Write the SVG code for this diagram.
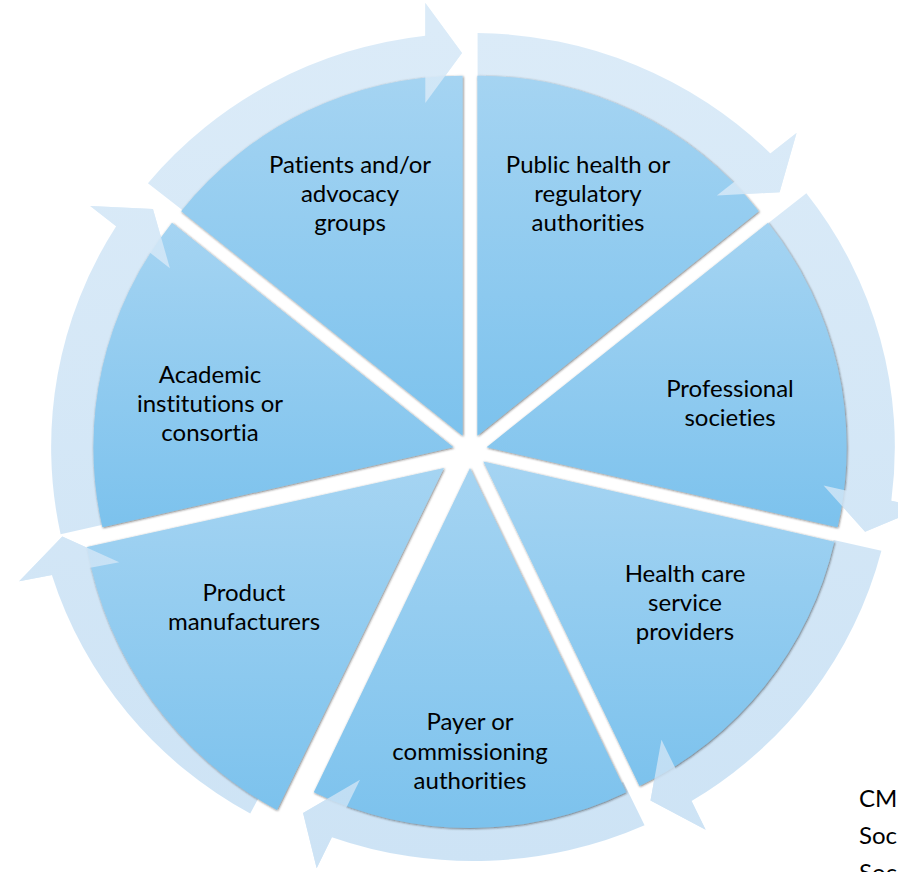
<svg xmlns="http://www.w3.org/2000/svg" width="898" height="872" viewBox="0 0 898 872">
  <defs>
    <linearGradient id="sliceFill" x1="0" y1="0" x2="0" y2="1">
      <stop offset="0" stop-color="#a5d4f2"/>
      <stop offset="1" stop-color="#7cc2ed"/>
    </linearGradient>
    <linearGradient id="arrowFill" gradientUnits="userSpaceOnUse" x1="0" y1="-420" x2="0" y2="420">
      <stop offset="0" stop-color="#dbebf8"/>
      <stop offset="1" stop-color="#cde3f5"/>
    </linearGradient>
    <filter id="edgeShadow" x="-5%" y="-5%" width="110%" height="110%">
      <feDropShadow dx="0.7" dy="0.8" stdDeviation="0.8" flood-color="#1a1a1a" flood-opacity="0.6"/>
    </filter>
  </defs>
  <style>
    .slice { fill: url(#sliceFill); filter: url(#edgeShadow); }
    .arrow { fill: url(#arrowFill); }
    .head { fill: url(#arrowFill); opacity: 0.82; }
    .label { font-family: Lato, "Open Sans", sans-serif; font-size: 24px; fill: #000; text-anchor: middle; font-variant-ligatures: none; }
    .note { font-family: Lato, "Open Sans", sans-serif; font-size: 24px; fill: #000; font-variant-ligatures: none; }
  </style>

  <rect width="898" height="872" fill="#fff"/>

  <!-- circular arrows running clockwise round the ring (drawn beneath the segments) -->
  <g id="connectors">
    <g transform="translate(473 447) scale(1.019 1)">
      <path class="arrow" d="M -319.02 -263.87 A 414 414 0 0 1 -46.8 -411.35 L -46.8 -444 L -10.8 -394 L -46.8 -344 L -46.8 -363 A 366 366 0 0 0 -281.49 -233.95 Z"/>
      <path class="arrow" d="M 4.5 -413.98 A 414 414 0 0 1 291.92 -293.56 L 317.51 -313.97 L 300.87 -254.65 L 239.33 -251.62 L 254.11 -263.41 A 366 366 0 0 0 4.5 -365.97 Z"/>
      <path class="arrow" d="M 327.14 -253.72 A 414 414 0 0 1 410.51 53.69 L 441.55 60.78 L 384.79 84.75 L 344.06 38.53 L 363.48 42.96 A 366 366 0 0 0 289.61 -223.79 Z"/>
      <path class="arrow" d="M 400.78 103.79 A 414 414 0 0 1 214.48 354.11 L 228.32 382.85 L 174.19 353.42 L 184.93 292.75 L 193.55 310.64 A 366 366 0 0 0 353.96 93.1 Z"/>
      <path class="arrow" d="M 168.37 378.2 A 414 414 0 0 1 -138.49 390.15 L -153.42 421.14 L -166.76 365.88 L -110.9 332.85 L -117.53 346.62 A 366 366 0 0 0 147.54 334.95 Z"/>
      <path class="arrow" transform="rotate(2) translate(-18 5)" d="M -187.69 369.01 A 414 414 0 0 1 -390.55 137.35 L -422.41 144.62 L -381.67 98.39 L -324.92 122.37 L -343.41 126.59 A 366 366 0 0 0 -166.86 325.75 Z"/>
      <path class="arrow" d="M -404.7 87.25 A 414 414 0 0 1 -350.19 -220.82 L -375.62 -241.1 L -314.09 -238.08 L -297.44 -178.75 L -312.41 -190.69 A 366 366 0 0 0 -357.9 76.57 Z"/>
    </g>
  </g>

  <!-- the seven segments of the ring -->
  <g id="public-health">
    <path class="slice" d="M 477.38 435.68 L 477.38 75.68 A 360 360 0 0 1 758.84 211.22 Z"/>
  </g>
  <g id="professional-societies">
    <path class="slice" d="M 486.57 447.22 L 768.03 222.76 A 360 360 0 0 1 837.54 527.33 Z"/>
  </g>
  <g id="health-care-providers">
    <path class="slice" d="M 483.29 461.6 L 834.26 541.71 A 360 360 0 0 1 639.49 785.95 Z"/>
  </g>
  <g id="payer-authorities">
    <path class="slice" d="M 470 468 L 626.2 792.35 A 360 360 0 0 1 313.8 792.35 Z"/>
  </g>
  <g id="product-manufacturers">
    <path class="slice" d="M 444 468 L 277 810 A 372 372 0 0 1 87 547 Z"/>
  </g>
  <g id="academic-institutions">
    <path class="slice" d="M 453.43 447.22 L 102.46 527.33 A 360 360 0 0 1 171.97 222.76 Z"/>
  </g>
  <g id="patients-advocacy">
    <path class="slice" d="M 462.62 435.68 L 181.16 211.22 A 360 360 0 0 1 462.62 75.68 Z"/>
  </g>

  <!-- arrowheads lie over the segment edges -->
  <g id="arrowheads" transform="translate(473 447) scale(1.019 1)">
    <path class="head" d="M -46.8 -444 L -10.8 -394 L -46.8 -344 Z"/>
    <path class="head" d="M 317.51 -313.97 L 300.87 -254.65 L 239.33 -251.62 Z"/>
    <path class="head" d="M 441.55 60.78 L 384.79 84.75 L 344.06 38.53 Z"/>
    <path class="head" d="M 228.32 382.85 L 174.19 353.42 L 184.93 292.75 Z"/>
    <path class="head" d="M -153.42 421.14 L -166.76 365.88 L -110.9 332.85 Z"/>
    <path class="head" transform="rotate(2) translate(-18 5)" d="M -422.41 144.62 L -381.67 98.39 L -324.92 122.37 Z"/>
    <path class="head" d="M -375.62 -241.1 L -314.09 -238.08 L -297.44 -178.75 Z"/>
  </g>

  <!-- segment labels -->
  <g id="labels">
    <text class="label" x="350" y="173">Patients and/or<tspan x="350" dy="29">advocacy</tspan><tspan x="350" dy="29">groups</tspan></text>
    <text class="label" x="588" y="173">Public health or<tspan x="588" dy="29">regulatory</tspan><tspan x="588" dy="29">authorities</tspan></text>
    <text class="label" x="730" y="397">Professional<tspan x="730" dy="29">societies</tspan></text>
    <text class="label" x="685" y="582">Health care<tspan x="685" dy="29">service</tspan><tspan x="685" dy="29">providers</tspan></text>
    <text class="label" x="470" y="730">Payer or<tspan x="470" dy="29.5">commissioning</tspan><tspan x="470" dy="29.5">authorities</tspan></text>
    <text class="label" x="244" y="601">Product<tspan x="244" dy="29">manufacturers</tspan></text>
    <text class="label" x="210" y="383">Academic<tspan x="210" dy="29">institutions or</tspan><tspan x="210" dy="29">consortia</tspan></text>
  </g>

  <!-- side note, running off the right edge -->
  <g id="note">
    <text class="note" x="859" y="807">CM<tspan x="859" dy="37">Soc</tspan><tspan x="859" dy="37">Soc</tspan></text>
  </g>
</svg>
